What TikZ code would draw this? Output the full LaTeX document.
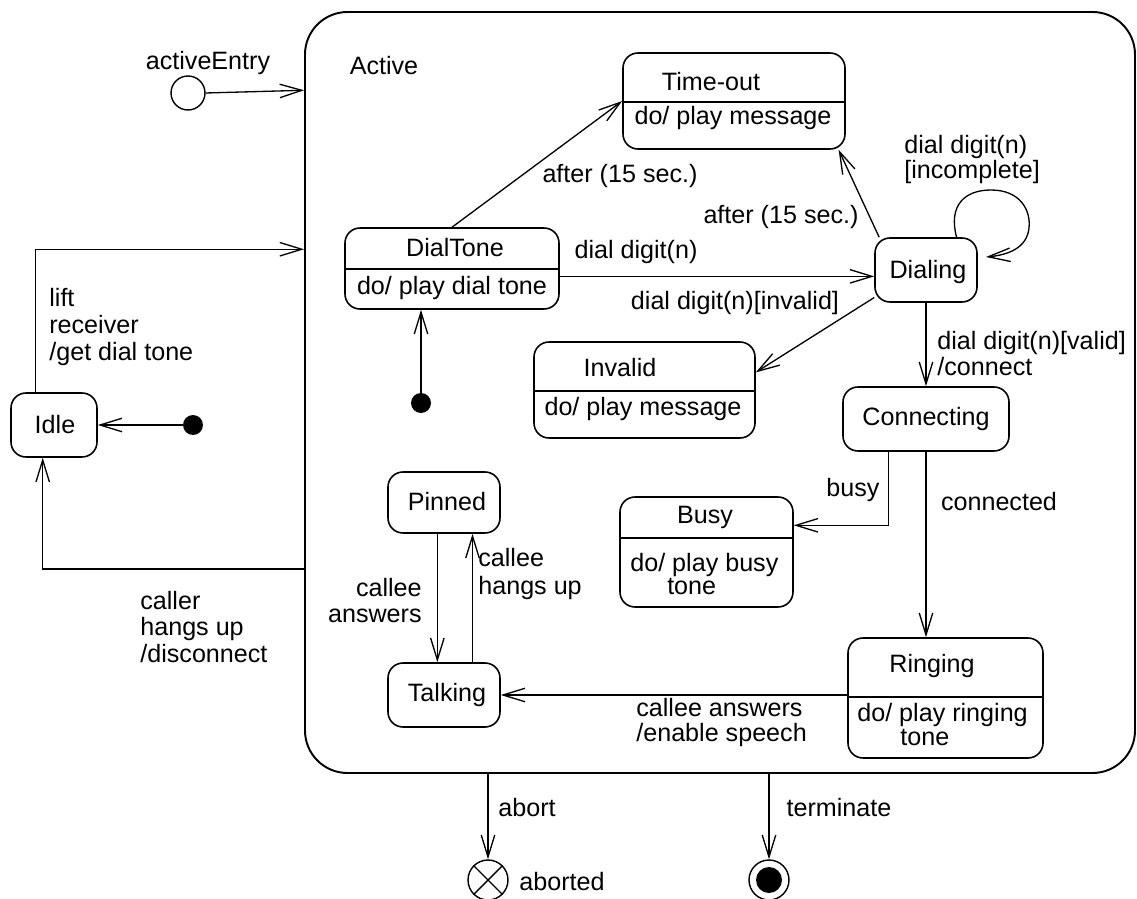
\documentclass[tikz,border=0pt]{standalone}
\usepackage{fontspec}
\setmainfont{Liberation Sans}
\usetikzlibrary{arrows.meta,fit}
\begin{document}
\begin{tikzpicture}[x=0.02cm,y=-0.02cm,
  every node/.style={font=\fontsize{14.3}{15.5}\selectfont},
  sbox/.style={draw,rounded corners=0.3cm,line width=0.9pt,inner sep=0pt},
  abox/.style={draw,rounded corners=0.85cm,line width=1.1pt,inner sep=0pt},
  lbl/.style={inner sep=0pt},
  mlbl/.style={inner sep=0pt,align=left},
  tr/.style={line width=0.75pt,-{Straight Barb[length=0.44cm,width=0.27cm]}},
  div/.style={line width=0.9pt},
  dot/.style={circle,fill,inner sep=0pt,minimum size=0.4cm},
  ring/.style={circle,draw,line width=0.8pt,inner sep=0pt},
]
\useasboundingbox (0,0) rectangle (1137,899);

% ---------- composite state ----------
\node[abox, fit={(305,12)(1135,773)}] (active) {};
\node[lbl] (activeT) at (384,66) {Active};

% ---------- entry point ----------
\node[ring, minimum size=0.68cm] (entry) at (188,93) {};
\node[lbl] (entryT) at (208,63) {activeEntry};

% ---------- Idle ----------
\node[sbox, fit={(11,393)(97,457)}] (idle) {};
\node[lbl] (idleT) at (55,425) {Idle};
\node[dot] (init1) at (193,425) {};

% ---------- Time-out ----------
\node[sbox, fit={(623,53)(845,149)}] (timeout) {};
\draw[div] (timeout.west |- 0,102) -- (timeout.east |- 0,102);
\node[lbl] (timeoutT) at (711,82) {Time-out};
\node[lbl] (timeoutD) at (733,118) {do/ play message};

% ---------- DialTone ----------
\node[sbox, fit={(345,228)(559,309)}] (dialtone) {};
\draw[div] (dialtone.west |- 0,269) -- (dialtone.east |- 0,269);
\node[lbl] (dialtoneT) at (455,248) {DialTone};
\node[lbl] (dialtoneD) at (452,288) {do/ play dial tone};
\node[dot] (init2) at (421,403) {};

% ---------- Dialing ----------
\node[sbox, fit={(875,238)(977,302)}] (dialing) {};
\node[lbl] (dialingT) at (928,272) {Dialing};

% ---------- Invalid ----------
\node[sbox, fit={(534,342)(755,438)}] (invalid) {};
\draw[div] (invalid.west |- 0,391) -- (invalid.east |- 0,391);
\node[lbl] (invalidT) at (620,368) {Invalid};
\node[lbl] (invalidD) at (643,409) {do/ play message};

% ---------- Connecting ----------
\node[sbox, fit={(843,387)(1009,451)}] (connecting) {};
\node[lbl] (connectingT) at (926,419) {Connecting};

% ---------- Busy ----------
\node[sbox, fit={(620,497)(793,607)}] (busy) {};
\draw[div] (busy.west |- 0,538) -- (busy.east |- 0,538);
\node[lbl] (busyT) at (705,517) {Busy};
\node[mlbl, anchor=west, font=\fontsize{14.3}{13.6}\selectfont] (busyD) at (630,574) {do/ play busy\\\hspace*{21pt}tone};

% ---------- Ringing ----------
\node[sbox, fit={(848,638)(1043,758)}] (ringing) {};
\draw[div] (ringing.west |- 0,697) -- (ringing.east |- 0,697);
\node[lbl] (ringingT) at (932,666) {Ringing};
\node[mlbl, anchor=west, font=\fontsize{14.3}{14.2}\selectfont] (ringingD) at (857,724.5) {do/ play ringing\\\hspace*{24.5pt}tone};

% ---------- Pinned / Talking ----------
\node[sbox, fit={(388,472)(500,533)}] (pinned) {};
\node[lbl] (pinnedT) at (447,502) {Pinned};
\node[sbox, fit={(388,663)(500,727)}] (talking) {};
\node[lbl] (talkingT) at (447,695) {Talking};

% ---------- pseudo states below ----------
\node[ring, minimum size=0.8cm] (aborted) at (488,880) {};
\draw[line width=0.8pt] (aborted.45) -- (aborted.225) (aborted.135) -- (aborted.-45);
\node[lbl] (abortedT) at (562,882) {aborted};
\node[ring, minimum size=0.8cm] (final) at (769,880) {};
\node[dot, minimum size=0.52cm] (finalIn) at (final.center) {};

% ---------- transitions ----------
\draw[tr] (entry.east) -- (active.144.2);
\draw[tr] (idle.119.4) |- (active.161.9);
\draw[tr] (active.203.7) -| (idle.251);
\draw[tr] (init1) -- (idle.east);
\draw[tr] (init2) -- (init2 |- dialtone.south);
\draw[tr] (dialtone.north) -- (timeout.west);
\draw[tr] (dialing.145.2) -- (timeout.-25.4);
\draw[tr] (dialtone.east |- dialing.187.8) -- (dialing.187.8);
\draw[tr] (dialing.208.8) -- (invalid.9.25);
\coordinate (loopend) at (986,257);
\draw[tr] (dialing.47.8) .. controls (948,205) and (965,190) .. (991,190)
  .. controls (1020,190) and (1031,210) .. (1029,228)
  .. controls (1027,248) and (1008,255) .. (loopend);
\draw[tr] (dialing.south) -- (dialing.south |- connecting.north);
\draw[tr] (connecting.221.6) |- (busy.17.3);
\draw[tr] (connecting.south) -- (connecting.south |- ringing.north);
\draw[tr] (talking.east -| ringing.west) -- (talking.east);
\draw[tr] (pinned.258.9) -- (pinned.258.9 |- talking.north);
\draw[tr] (talking.49.8) -- (talking.49.8 |- pinned.south);
\draw[tr] (aborted.north |- active.south) -- (aborted.north);
\draw[tr] (final.north |- active.south) -- (final.north);

% ---------- transition labels ----------
\node[mlbl, anchor=west, font=\fontsize{14.3}{15.4}\selectfont] (liftL) at (49,327) {lift\\receiver\\/get dial tone};
\node[mlbl, anchor=west, font=\fontsize{14.3}{15}\selectfont] (callerL) at (140,627) {caller\\hangs up\\/disconnect};
\node[lbl] (after1) at (620,176) {after (15 sec.)};
\node[lbl] (after2) at (781,217) {after (15 sec.)};
\node[lbl] (digitL) at (636,252) {dial digit(n)};
\node[lbl] (invalidL) at (735,303) {dial digit(n)[invalid]};
\node[mlbl, anchor=west, font=\fontsize{14.3}{14}\selectfont] (incompleteL) at (904,159.5) {dial digit(n)\\{[incomplete]}};
\node[mlbl, anchor=west, font=\fontsize{14.3}{13.2}\selectfont] (validL) at (937,353.5) {dial digit(n)[valid]\\/connect};
\node[lbl] (busyL) at (853,490) {busy};
\node[lbl] (connectedL) at (999,502) {connected};
\node[mlbl, anchor=west, font=\fontsize{14.3}{14.2}\selectfont] (answerL) at (636,722.5) {callee answers\\/enable speech};
\node[mlbl, anchor=west, font=\fontsize{14.3}{15.9}\selectfont] (hangsL) at (478,574) {callee\\hangs up};
\node[inner sep=0pt, align=right, anchor=east, font=\fontsize{14.3}{14.8}\selectfont] (answersL) at (422,601) {callee\\answers};
\node[lbl] (abortL) at (527,808) {abort};
\node[lbl] (terminateL) at (839,808) {terminate};
\end{tikzpicture}
\end{document}
